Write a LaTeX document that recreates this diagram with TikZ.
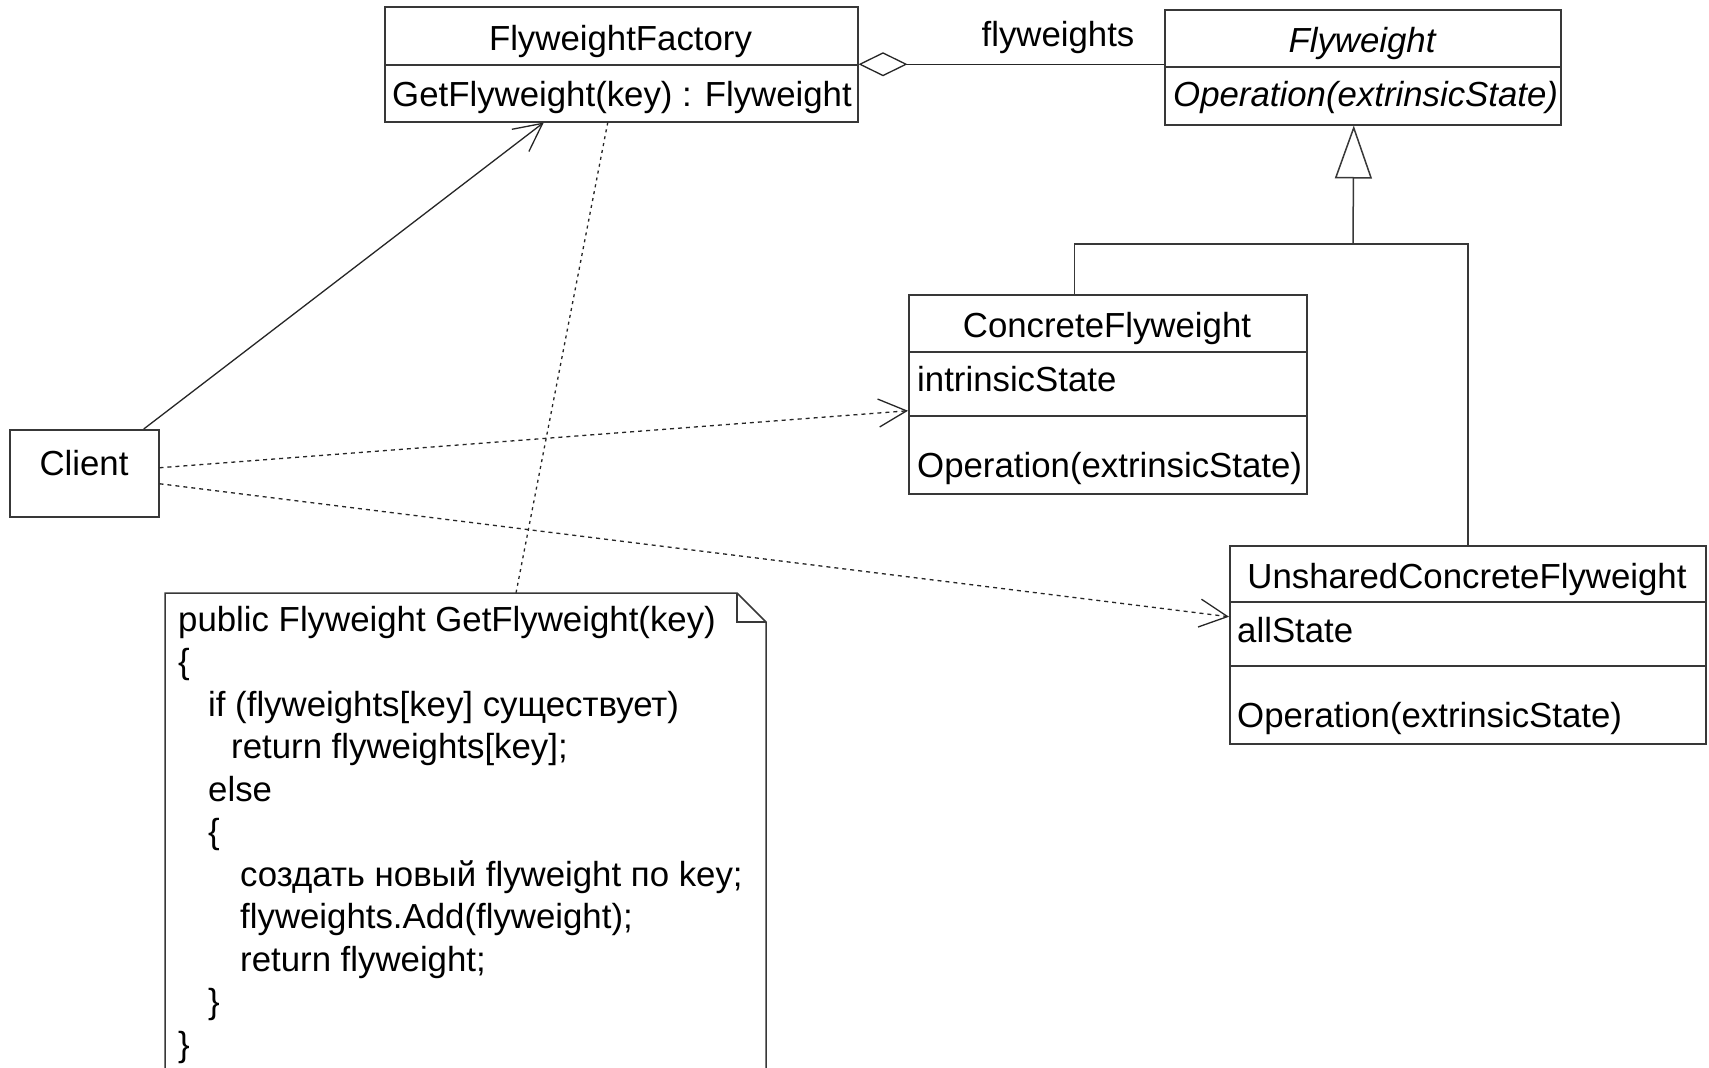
\documentclass[tikz,border=0pt]{standalone}
\usepackage{fontspec}
\setmainfont{Liberation Sans}
\usetikzlibrary{arrows.meta}
\begin{document}
\begin{tikzpicture}[x=1pt,y=-1pt,
  line/.style={draw=black!78, line width=1.5pt},
  box/.style={line, fill=white, inner sep=0pt, anchor=north west},
  conn/.style={draw=black!85, line width=1.3pt},
  opentip/.style={-{Straight Barb[length=28pt,width=28pt]}},
  dep/.style={conn, dash pattern=on 4pt off 4pt, opentip},
  lbl/.style={inner sep=0pt, font=\fontsize{34.8pt}{42.5pt}\selectfont},
  title/.style={lbl, anchor=base},
  member/.style={lbl, anchor=base west},
  abstract/.style={lbl, font=\fontsize{34.8pt}{42.5pt}\selectfont\itshape},
]
\useasboundingbox[fill=white] (0,0) rectangle (1709,1068);

% class boxes
\node[box, minimum width=473pt, minimum height=115pt] (ff)  at (384,6)   {};
\node[box, minimum width=396pt, minimum height=115pt] (fw)  at (1164,9)  {};
\node[box, minimum width=398pt, minimum height=199pt] (cf)  at (908,294) {};
\node[box, minimum width=476pt, minimum height=198pt] (ucf) at (1229,545) {};
\node[box, minimum width=149pt, minimum height=87pt]  (client) at (9,429) {};

% compartments
\draw[line] (ff.west |- 0,65) -- (ff.east |- 0,65);
\draw[line] (fw.west |- 0,67) -- (fw.east |- 0,67);
\draw[line] (cf.west |- 0,352) -- (cf.east |- 0,352);
\draw[line] (cf.west |- 0,416) -- (cf.east |- 0,416);
\draw[line] (ucf.west |- 0,602) -- (ucf.east |- 0,602);
\draw[line] (ucf.west |- 0,666) -- (ucf.east |- 0,666);

% class texts
\node[title] (ffname) at (620.5,50) {FlyweightFactory};
\node[member] (ffop) at (392,106) {GetFlyweight(key) : Flyweight};
\node[title, abstract] (fwname) at (1362,52) {Flyweight};
\node[member, abstract] (fwop) at (1173,106) {Operation(extrinsicState)};
\node[title] (cfname) at (1107,337) {ConcreteFlyweight};
\node[member] (cfattr) at (917,391) {intrinsicState};
\node[member] (cfop) at (917,477) {Operation(extrinsicState)};
\node[title] (ucfname) at (1467,588) {UnsharedConcreteFlyweight};
\node[member] (ucfattr) at (1237,642) {allState};
\node[member] (ucfop) at (1237,727) {Operation(extrinsicState)};
\node[title] (clientname) at (84,475) {Client};

% aggregation
\draw[conn, {Diamond[open, length=49pt, width=24pt]}-] (ff.east) -- (ff.east -| fw.west);
\node[title] (aggname) at (1058,46) {flyweights};

% generalization
\coordinate (gen) at (1353,244);
\draw[line] ([xshift=-33.5pt]cf.north) |- (gen) -| (ucf.north);
\draw[line, -{Triangle[open, length=53pt, width=37pt]}, fill=white] (gen) -- ([xshift=-9pt]fw.south);

% client associations
\draw[conn, opentip] ([xshift=59.5pt]client.north) -- ([xshift=-77.5pt]ff.south);
\draw[dep] ([yshift=5.5pt]client.east) -- ([yshift=-16.5pt]cf.west);
\draw[dep] ([yshift=-10.5pt]client.east) -- ([yshift=28pt]ucf.west);

% note with folded corner
\coordinate (notetop) at (516,593);
\draw[line, fill=white] (165,1068) -- (165,593) -- (737,593) -- (766,622) -- (766,1068);
\draw[line] (737,593) -- (737,622) -- (766,622);
\draw[conn, dash pattern=on 3pt off 4pt] ([xshift=-13.5pt]ff.south) -- (notetop);

\node[member] (n1)  at (178,631)   {public Flyweight GetFlyweight(key)};
\node[member] (n2)  at (178,673.5) {\{};
\node[member] (n3)  at (208,716)   {if (flyweights[key] существует)};
\node[member] (n4)  at (231,758.5) {return flyweights[key];};
\node[member] (n5)  at (208,801)   {else};
\node[member] (n6)  at (208,843.5) {\{};
\node[member] (n7)  at (240,886)   {создать новый flyweight по key;};
\node[member] (n8)  at (240,928.5) {flyweights.Add(flyweight);};
\node[member] (n9)  at (240,971)   {return flyweight;};
\node[member] (n10) at (208,1013.5) {\}};
\node[member] (n11) at (178,1056)  {\}};
\end{tikzpicture}
\end{document}
